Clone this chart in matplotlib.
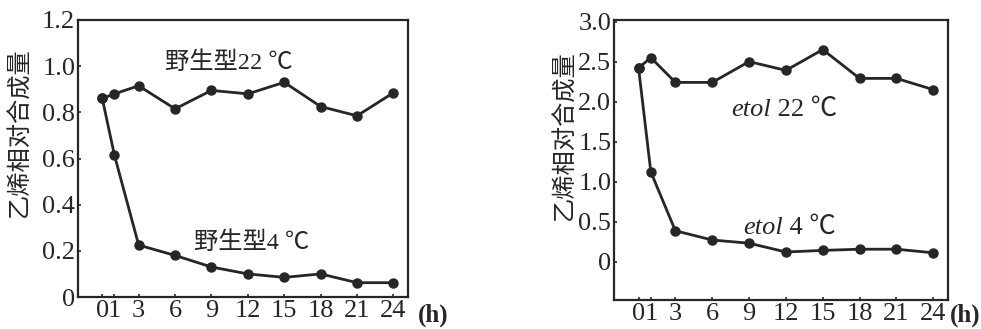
import matplotlib
matplotlib.use("Agg")
import matplotlib.pyplot as plt

hours = [0, 1, 3, 6, 9, 12, 15, 18, 21, 24]
tick_labels = ["0", "1", "3", "6", "9", "12", "15", "18", "21", "24"]

wt_22 = [0.86, 0.88, 0.915, 0.815, 0.895, 0.88, 0.93, 0.825, 0.785, 0.885]
wt_4 = [0.86, 0.615, 0.225, 0.18, 0.13, 0.10, 0.085, 0.10, 0.062, 0.062]

etol_22 = [2.42, 2.55, 2.24, 2.24, 2.50, 2.39, 2.65, 2.29, 2.29, 2.15]
etol_4 = [2.42, 1.12, 0.385, 0.27, 0.23, 0.12, 0.14, 0.155, 0.155, 0.11]

left_yticks = [0, 0.2, 0.4, 0.6, 0.8, 1.0, 1.2]
left_yticklabels = ["0", "0.2", "0.4", "0.6", "0.8", "1.0", "1.2"]
right_yticks = [0, 0.5, 1.0, 1.5, 2.0, 2.5, 3.0]
right_yticklabels = ["0", "0.5", "1.0", "1.5", "2.0", "2.5", "3.0"]

ylabel = "乙烯相对合成量"

SERIF = "Liberation Serif"
CJK = ["Noto Sans CJK SC", "DejaVu Sans"]
MIX = ["Liberation Serif", "Noto Sans CJK SC", "DejaVu Sans"]
INK = "#262626"

fig = plt.figure(figsize=(9.81, 3.29), dpi=100)
ax1 = fig.add_axes([78 / 981, 1 - 297 / 329, (408 - 78) / 981, (297 - 20) / 329])
ax2 = fig.add_axes([614 / 981, 1 - 300 / 329, (948 - 614) / 981, (300 - 20) / 329])


def style(ax, yticks, ylabels, ylim):
    ax.set_xlim(-2.0, 25.2)
    ax.set_ylim(*ylim)
    ax.set_xticks(hours)
    ax.set_xticklabels(tick_labels, family=SERIF, fontsize=19, color=INK)
    ax.set_yticks(yticks)
    ax.set_yticklabels(ylabels, family=SERIF, fontsize=19, color=INK)
    ax.tick_params(direction="in", length=2.5, width=1.2, color=INK, pad=2)
    for s in ax.spines.values():
        s.set_linewidth(1.6)
        s.set_color(INK)


for ax, a, b in [(ax1, wt_22, wt_4), (ax2, etol_22, etol_4)]:
    ax.plot(hours, a, color=INK, lw=2.0, marker="o", ms=6.5)
    ax.plot(hours, b, color=INK, lw=2.0, marker="o", ms=6.5)

style(ax1, left_yticks, left_yticklabels, (0, 1.2))
style(ax2, right_yticks, right_yticklabels, (-0.48, 3.02))

# y labels
fig.text(20 / 981, 1 - 132 / 329, ylabel, rotation=90, ha="center", va="center",
         family=CJK, fontsize=17.5, color=INK)
fig.text(565 / 981, 1 - 135 / 329, ylabel, rotation=90, ha="center", va="center",
         family=CJK, fontsize=17.5, color=INK)

# (h) unit labels
fig.text(433 / 981, 1 - 315 / 329, "(h)", ha="center", va="center",
         family=SERIF, fontsize=18, color=INK, weight="bold")
fig.text(965 / 981, 1 - 315 / 329, "(h)", ha="center", va="center",
         family=SERIF, fontsize=18, color=INK, weight="bold")

# series annotations
fig.text(229 / 981, 1 - 63 / 329, "野生型22 ℃", ha="center", va="center",
         family=MIX, fontsize=17.5, color=INK)
fig.text(252 / 981, 1 - 243 / 329, "野生型4 ℃", ha="center", va="center",
         family=MIX, fontsize=17.5, color=INK)

# etol labels: italic gene name + upright temperature
fig.text(771 / 981, 1 - 110 / 329, "etol", ha="right", va="center",
         family=SERIF, style="italic", fontsize=19, color=INK)
fig.text(771 / 981, 1 - 110 / 329, " 22 ℃", ha="left", va="center",
         family=MIX, fontsize=19, color=INK)
fig.text(783 / 981, 1 - 228 / 329, "etol", ha="right", va="center",
         family=SERIF, style="italic", fontsize=19, color=INK)
fig.text(783 / 981, 1 - 228 / 329, " 4 ℃", ha="left", va="center",
         family=MIX, fontsize=19, color=INK)

fig.savefig("out.png", dpi=100)
